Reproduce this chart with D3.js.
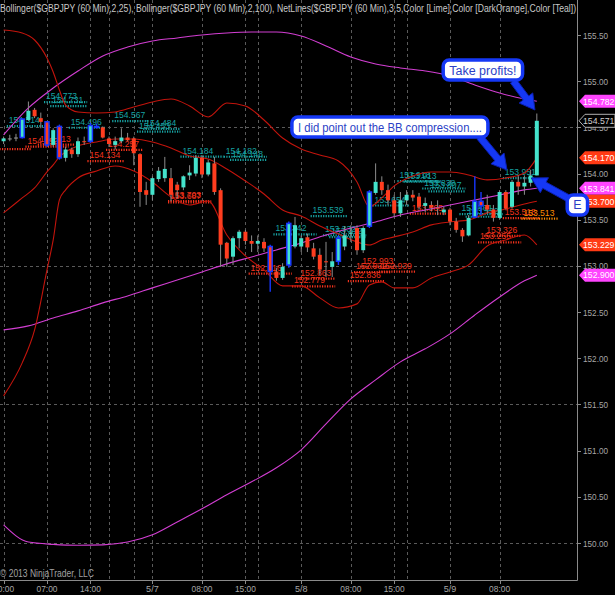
<!DOCTYPE html>
<html><head><meta charset="utf-8">
<script src="https://cdn.jsdelivr.net/npm/d3@7"></script>
<style>body{margin:0;background:#000;}svg{display:block;}</style>
</head><body>
<script>
// ---------- DATA ----------
const titleText = "Bollinger($GBPJPY (60 Min),2,25), Bollinger($GBPJPY (60 Min),2,100), NetLines($GBPJPY (60 Min),3,5,Color [Lime],Color [DarkOrange],Color [Teal])";
const openP = [154.35,154.38,154.39,154.39,154.58,154.69,154.60,154.56,154.31,154.51,
154.17,154.26,154.21,154.35,154.35,154.50,154.50,154.38,154.31,154.35,
154.39,154.38,154.21,153.82,153.77,153.94,153.95,153.95,153.88,153.85,
153.98,154.00,154.17,153.99,154.11,153.82,153.25,153.10,153.30,153.37,
153.27,153.24,153.26,153.21,152.94,152.87,153.01,153.21,153.21,153.31,
153.19,153.12,153.05,152.99,153.05,153.21,153.35,153.41,153.17,153.43,
153.79,153.91,153.82,153.71,153.57,153.71,153.77,153.75,153.65,153.66,
153.63,153.58,153.61,153.48,153.39,153.33,153.53,153.70,153.66,153.61,
153.52,153.80,153.64,153.91,153.86,153.90,153.98];
const highP = [154.40,154.42,154.43,154.60,154.78,154.71,154.66,154.57,154.49,154.53,
154.29,154.28,154.39,154.40,154.55,154.54,154.51,154.40,154.40,154.49,
154.44,154.40,154.22,153.91,153.97,154.07,154.18,154.06,153.91,153.98,
154.09,154.20,154.20,154.15,154.18,153.84,153.26,153.32,153.39,153.39,
153.33,153.33,153.30,153.23,152.98,153.03,153.48,153.53,153.33,153.35,
153.25,153.19,153.26,153.15,153.33,153.43,153.44,153.44,153.43,153.82,
154.11,153.97,153.88,153.77,153.80,153.82,153.82,153.79,153.74,153.70,
153.71,153.64,153.63,153.52,153.41,153.55,153.97,153.80,153.77,153.66,
153.82,153.82,153.93,153.98,153.98,154.04,154.65];
const lowP = [154.32,154.35,154.35,154.38,154.57,154.60,154.49,154.29,154.29,154.15,
154.13,154.17,154.18,154.31,154.33,154.49,154.38,154.29,154.26,154.33,
154.35,154.09,153.64,153.66,153.71,153.91,153.91,153.70,153.73,153.82,
153.93,153.97,153.95,153.97,153.77,152.99,152.99,153.01,153.19,153.23,
153.15,153.15,153.15,152.72,152.84,152.85,152.98,153.19,153.15,153.15,
153.07,152.90,152.88,152.88,153.01,153.17,153.26,153.12,153.14,153.41,
153.77,153.77,153.66,153.53,153.53,153.66,153.70,153.61,153.58,153.59,
153.55,153.55,153.44,153.36,153.26,153.32,153.52,153.55,153.57,153.48,
153.50,153.61,153.62,153.77,153.77,153.86,153.98];
const closeP = [154.38,154.38,154.39,154.59,154.68,154.62,154.56,154.31,154.47,154.17,
154.26,154.21,154.35,154.34,154.52,154.51,154.39,154.32,154.35,154.39,
154.36,154.22,153.80,153.77,153.95,154.03,154.05,153.77,153.82,153.97,
154.01,154.17,153.99,154.12,153.80,153.23,153.08,153.30,153.37,153.27,
153.24,153.27,153.19,152.94,152.87,152.99,153.46,153.44,153.30,153.20,
153.10,152.96,153.04,153.05,153.30,153.33,153.36,153.17,153.41,153.80,
153.91,153.82,153.71,153.57,153.71,153.77,153.74,153.64,153.68,153.63,
153.62,153.61,153.48,153.39,153.32,153.52,153.70,153.65,153.61,153.52,
153.80,153.62,153.91,153.86,153.90,153.98,154.571];
const highlightBars = [3,7,9,14,15,43,46,54,59,76,77];

// Bollinger (2,25)
const bb25Idx   = [0,3,5,7,8,9,10,12,15,18,21,24,27,30,33,36,39,42,45,48,51,54,57,59,61,63,66,69,72,75,78,81,84,86];
const bb25Upper = [155.554,155.522,155.446,155.251,155.100,154.905,154.742,154.667,154.656,154.667,154.721,154.775,154.807,154.732,154.613,154.764,154.732,154.580,154.385,154.266,154.201,154.136,153.909,153.639,153.736,153.866,153.974,154.017,154.017,153.985,153.931,153.952,154.006,154.170];
const bb25Mid   = [153.574,153.736,153.844,154.017,154.093,154.180,154.234,154.299,154.342,154.374,154.374,154.342,154.277,154.190,154.158,154.050,153.920,153.779,153.606,153.541,153.433,153.346,153.260,153.227,153.281,153.314,153.368,153.444,153.476,153.498,153.574,153.617,153.671,153.700];
const bb25Lower = [151.593,151.950,152.307,152.957,153.281,153.714,153.823,153.952,154.028,154.082,154.028,153.909,153.747,153.660,153.703,153.335,153.108,152.957,152.784,152.784,152.654,152.545,152.589,152.794,152.827,152.762,152.762,152.870,152.935,153.011,153.216,153.281,153.335,153.227];

// Bollinger (2,100)
const bb100Idx   = [0,4,8,12,16,20,24,28,32,36,40,44,48,52,56,60,64,68,72,76,80,84,86];
const bb100Upper = [154.418,154.710,154.926,155.110,155.273,155.370,155.435,155.468,155.500,155.522,155.532,155.532,155.489,155.381,155.262,155.186,155.143,155.110,155.056,154.959,154.872,154.807,154.782];
const bb100Mid   = [152.307,152.351,152.437,152.513,152.600,152.675,152.762,152.848,152.935,153.022,153.097,153.173,153.249,153.335,153.411,153.476,153.552,153.606,153.660,153.714,153.768,153.823,153.841];
const bb100Lower = [150.196,150.010,149.985,149.975,149.980,150.010,150.089,150.228,150.370,150.522,150.662,150.814,151.009,151.289,151.560,151.766,151.961,152.102,152.264,152.469,152.664,152.839,152.900];

// NetLines levels
const netValue = [154.773,154.731,154.514,154.496,154.567,154.484,154.453,154.184,154.182,154.148,153.539,153.342,153.332,153.312,153.654,153.918,153.913,153.838,153.807,153.561,153.532,153.951,
                  154.313,154.292,154.265,154.257,154.134,153.703,153.687,152.916,152.863,152.779,152.993,152.932,152.939,152.836,153.565,153.326,153.255,153.518,
                  153.513];
const netStart = [7,8,1,11,18,23,22,29,36,37,50,44,52,53,60,64,65,68,69,74,75,81,
                  6,4,-3,17,14,27,27,40,48,47,58,57,61,56,66,78,77,81,
                  84];
const netEnd   = [13,13,7,16,23,28,28,35,42,42,55,50,58,58,65,70,70,74,74,80,80,85,
                  11,10,4,22,19,33,33,46,53,53,63,62,66,61,71,83,83,86,
                  89];
const netKind  = ["t","t","t","t","t","t","t","t","t","t","t","t","t","t","t","t","t","t","t","t","t","t",
                  "r","r","r","r","r","r","r","r","r","r","r","r","r","r","r","r","r","r",
                  "o"];

const yTicks = [150,150.5,151,151.5,152,152.5,153,153.5,154,154.5,155,155.5];
const yGrid = [150,151.5,153,154.5];
const xTickIdx = [0,7,14,24,32,39,48,56,63,72,80];
const xTickLabels = ["00:00","07:00","14:00","5/7","08:00","15:00","5/8","08:00","15:00","5/9","08:00"];
const xGridIdx = [0,7,14,17,21,24,32,39,41,48,56,63,65,72,80];

const tagValues = [154.782,154.571,154.170,153.841,153.700,153.229,152.900];
const tagKind   = ["m","c","r","m","r","r","m"];

// annotations: box top-left (bar, price), arrow tail -> tip (bar, price)
const noteText = ["Take profits!","I did point out the BB compression....","E"];
const noteBox  = [[70.9,155.229],[46.5,154.612],[90.9,153.768]];
const noteTail = [[82.2,155.002],[76.8,154.396],[91.0,153.735]];
const noteTip  = [[85.7,154.688],[81.2,154.038],[85.1,153.952]];

// ---------- DRAW ----------
const W=615,H=595, plotR=577, plotB=580;
const FONT = "'Liberation Sans', Arial, sans-serif";
const svg = d3.select("body").append("svg").attr("width",W).attr("height",H).style("background","#000");
const x = d3.scaleLinear().domain([-0.58, 92.48]).range([0, plotR]);
const y = d3.scaleLinear().domain([150, 155.5]).range([543, 35]);

svg.append("defs").append("clipPath").attr("id","pc").append("rect").attr("x",0).attr("y",0).attr("width",plotR).attr("height",plotB);
const plot = svg.append("g").attr("clip-path","url(#pc)");

// grid
plot.selectAll(".vg").data(xGridIdx).join("line")
  .attr("x1",d=>Math.round(x(d))+0.5).attr("x2",d=>Math.round(x(d))+0.5).attr("y1",0).attr("y2",plotB)
  .attr("stroke","#5a5a5a").attr("stroke-width",1).attr("stroke-dasharray","3,3");
plot.selectAll(".hg").data(yGrid).join("line")
  .attr("x1",0).attr("x2",plotR).attr("y1",d=>Math.round(y(d))+0.5).attr("y2",d=>Math.round(y(d))+0.5)
  .attr("stroke","#5a5a5a").attr("stroke-width",1).attr("stroke-dasharray","3,3");

// net lines
const netColor = {t:"#17a3a3", r:"#f2321c", o:"#ff8c00"};
const nets = netValue.map((v,i)=>({v,s:netStart[i],e:netEnd[i],k:netKind[i]}));
plot.selectAll(".nl").data(nets).join("line")
  .attr("x1",d=>x(d.s)-3).attr("x2",d=>x(d.e)+3)
  .attr("y1",d=>y(d.v)).attr("y2",d=>y(d.v))
  .attr("stroke",d=>netColor[d.k]).attr("stroke-width",2.2).attr("stroke-dasharray","1.2,1.3");
plot.selectAll(".nt").data(nets.filter(d=>d.s>=0)).join("text")
  .attr("x",d=>x(d.s)-1).attr("y",d=>y(d.v)-3)
  .attr("fill",d=>netColor[d.k]).attr("font-family",FONT).attr("font-size",9.5)
  .attr("textLength",31).attr("lengthAdjust","spacingAndGlyphs")
  .text(d=>d.v.toFixed(3));

// bands
function band(idx, vals, color){
  const line = d3.line().x((d,i)=>x(idx[i])).y(d=>y(d)).curve(d3.curveMonotoneX);
  plot.append("path").attr("d",line(vals)).attr("fill","none").attr("stroke",color).attr("stroke-width",1.1);
}
[bb100Upper,bb100Mid,bb100Lower].forEach(v=>band(bb100Idx,v,"#d23ed2"));
[bb25Upper,bb25Mid,bb25Lower].forEach(v=>band(bb25Idx,v,"#c2140c"));

// candles
const bars = openP.map((o,i)=>({i,o,h:highP[i],l:lowP[i],c:closeP[i],hl:highlightBars.includes(i)}));
const bw = 4;
plot.selectAll(".wick").data(bars).join("line")
  .attr("x1",d=>x(d.i)).attr("x2",d=>x(d.i)).attr("y1",d=>y(d.h)).attr("y2",d=>y(d.l))
  .attr("stroke",d=>d.hl?"#1838ff":"#8c8c8c").attr("stroke-width",d=>d.hl?1.4:1);
plot.selectAll(".body").data(bars).join("rect")
  .attr("x",d=>x(d.i)-bw/2).attr("width",bw)
  .attr("y",d=>y(Math.max(d.o,d.c))).attr("height",d=>Math.max(1,Math.abs(y(d.o)-y(d.c))))
  .attr("fill",d=>d.c>d.o?"#44e3cc":(d.c<d.o?"#ff3d1f":"#9a9a9a"))
  .attr("stroke",d=>d.hl?"#1838ff":"none").attr("stroke-width",d=>d.hl?1.5:0);

// axes
svg.append("line").attr("x1",plotR+0.5).attr("x2",plotR+0.5).attr("y1",0).attr("y2",plotB+0.5).attr("stroke","#8a8a8a");
svg.append("line").attr("x1",0).attr("x2",plotR+0.5).attr("y1",plotB+0.5).attr("y2",plotB+0.5).attr("stroke","#8a8a8a");
svg.selectAll(".yt").data(yTicks).join("line")
  .attr("x1",plotR).attr("x2",plotR+4).attr("y1",d=>Math.round(y(d))+0.5).attr("y2",d=>Math.round(y(d))+0.5).attr("stroke","#8a8a8a");
svg.selectAll(".ytl").data(yTicks).join("text")
  .attr("x",plotR+6).attr("y",d=>y(d)+3.5).attr("fill","#a6a6a6").attr("font-family",FONT).attr("font-size",9.5)
  .attr("textLength",25).attr("lengthAdjust","spacingAndGlyphs")
  .text(d=>d.toFixed(2));
svg.selectAll(".xt").data(xTickIdx).join("line")
  .attr("x1",d=>Math.round(x(d))+0.5).attr("x2",d=>Math.round(x(d))+0.5).attr("y1",plotB).attr("y2",plotB+4).attr("stroke","#8a8a8a");
svg.selectAll(".xtl").data(xTickIdx).join("text")
  .attr("x",d=>x(d)).attr("y",592).attr("text-anchor","middle").attr("fill","#a6a6a6")
  .attr("font-family",FONT).attr("font-size",9.5)
  .attr("textLength",(d,i)=>xTickLabels[i].length*4.2).attr("lengthAdjust","spacingAndGlyphs")
  .text((d,i)=>xTickLabels[i]);

// price tags
const tagFill = {m:"#ff45ff", r:"#ff3a14", c:"#000"};
tagValues.forEach((v,k)=>{
  const yy = y(v), kd = tagKind[k];
  svg.append("path").attr("d",`M${plotR+2},${yy} L${plotR+8},${yy-6.5} L${W},${yy-6.5} L${W},${yy+6.5} L${plotR+8},${yy+6.5} Z`)
    .attr("fill",tagFill[kd]).attr("stroke",kd==="c"?"#b0b0b0":"none");
  svg.append("text").attr("x",plotR+6).attr("y",yy+3.3).attr("fill",kd==="c"?"#d0d0d0":"#fff")
    .attr("font-family",FONT).attr("font-size",8.7).text(v.toFixed(3));
});

// annotations
function arrowPoly(x1,y1,x2,y2,sw,hw,hl){
  const dx=x2-x1, dy=y2-y1, L=Math.hypot(dx,dy), ux=dx/L, uy=dy/L, nx=-uy, ny=ux;
  const bx=x2-ux*hl, by=y2-uy*hl;
  return [[x1+nx*sw/2,y1+ny*sw/2],[bx+nx*sw/2,by+ny*sw/2],[bx+nx*hw/2,by+ny*hw/2],[x2,y2],
          [bx-nx*hw/2,by-ny*hw/2],[bx-nx*sw/2,by-ny*sw/2],[x1-nx*sw/2,y1-ny*sw/2]];
}
const notes = svg.append("g");
noteText.forEach((t,k)=>{
  const p = arrowPoly(x(noteTail[k][0]),y(noteTail[k][1]),x(noteTip[k][0]),y(noteTip[k][1]),7,17,15);
  notes.append("polygon").attr("points",p.map(q=>q.join(",")).join(" "))
    .attr("fill","#1538f5").attr("stroke","#0b1fb0").attr("stroke-width",1).attr("stroke-linejoin","round");
});
noteText.forEach((t,k)=>{
  const g = notes.append("g");
  const bx = x(noteBox[k][0]), by = y(noteBox[k][1]);
  const txt = g.append("text").attr("x",bx+6).attr("y",by+14.5)
     .attr("font-family",FONT).attr("font-size",12.5).attr("fill","#2b3fc6").text(t);
  if (k===1) txt.attr("textLength",184).attr("lengthAdjust","spacingAndGlyphs");
  const tw = k===1 ? 184 : txt.node().getComputedTextLength();
  g.insert("rect","text").attr("x",bx).attr("y",by).attr("width",tw+12).attr("height",20)
    .attr("rx",6).attr("fill","#fff").attr("stroke","#1538f5").attr("stroke-width",3.5);
});

// title + copyright
svg.append("text").attr("x",0).attr("y",12).attr("fill","#c8c8c8").attr("font-family",FONT).attr("font-size",11)
  .attr("textLength",576).attr("lengthAdjust","spacingAndGlyphs").text(titleText);
svg.append("text").attr("x",0).attr("y",577).attr("fill","#a0a0a0").attr("font-family",FONT).attr("font-size",10)
  .attr("textLength",94).attr("lengthAdjust","spacingAndGlyphs")
  .text("\u00a9 2013 NinjaTrader, LLC");
</script>
</body></html>
